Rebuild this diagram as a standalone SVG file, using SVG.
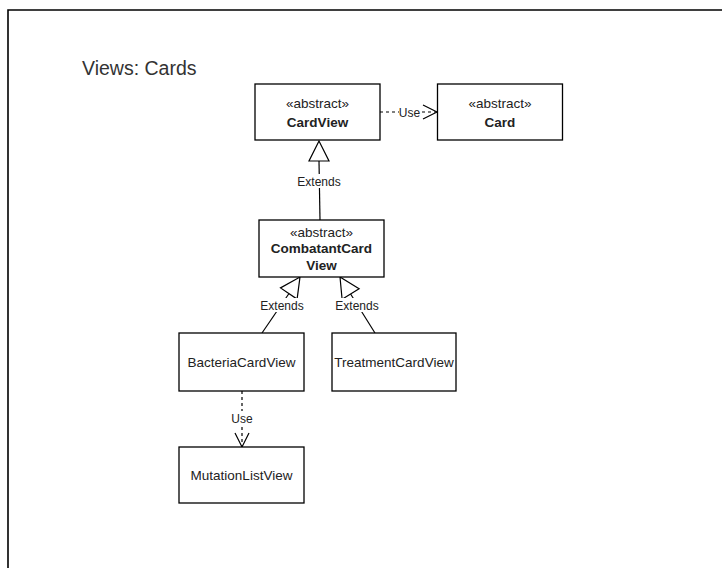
<svg xmlns="http://www.w3.org/2000/svg" width="722" height="568" viewBox="0 0 722 568">
  <style>
    .box { fill: #ffffff; stroke: #000000; stroke-width: 1.3; }
    .txt { font-family: "Liberation Sans", Arial, sans-serif; font-size: 13.5px; fill: #222222; text-anchor: middle; }
    .bold { font-weight: bold; }
    .lbl { font-family: "Liberation Sans", Arial, sans-serif; font-size: 12px; fill: #222222; text-anchor: middle; }
    .line { fill: none; stroke: #000000; stroke-width: 1.2; }
    .dash { fill: none; stroke: #000000; stroke-width: 1.2; stroke-dasharray: 3 3; }
    .tri { fill: #ffffff; stroke: #000000; stroke-width: 1.2; }
    .bg { fill: #ffffff; }
  </style>
  <rect x="0" y="0" width="722" height="568" fill="#ffffff"/>
  <!-- frame -->
  <path d="M 722 10 L 8 10 L 8 568" fill="none" stroke="#000000" stroke-width="1.6"/>
  <text x="82" y="75" font-family="'Liberation Sans', Arial, sans-serif" font-size="19.5" fill="#333333">Views: Cards</text>

  <g id="connectors">
    <!-- CardView uses Card -->
    <line class="dash" x1="380" y1="112" x2="437" y2="112"/>
    <polyline class="line" points="423,105 437,112 423,119"/>
    <rect class="bg" x="399" y="105" width="21" height="14"/>
    <text class="lbl" x="409.5" y="116.5">Use</text>

    <!-- CombatantCardView extends CardView -->
    <line class="line" x1="319" y1="161" x2="320" y2="220"/>
    <polygon class="tri" points="319,141 309,161 329,161"/>
    <rect class="bg" x="297" y="174" width="44" height="14"/>
    <text class="lbl" x="319" y="185.5">Extends</text>

    <!-- BacteriaCardView extends CombatantCardView -->
    <line class="line" x1="262" y1="333" x2="289" y2="293.5"/>
    <polygon class="tri" points="300,277 297.1,299.1 280.5,287.9"/>
    <rect class="bg" x="260" y="298" width="44" height="14"/>
    <text class="lbl" x="282" y="309.5">Extends</text>

    <!-- TreatmentCardView extends CombatantCardView -->
    <line class="line" x1="375" y1="333" x2="350.6" y2="294"/>
    <polygon class="tri" points="340,277 359.1,288.7 342.1,299.3"/>
    <rect class="bg" x="335" y="298" width="44" height="14"/>
    <text class="lbl" x="357" y="309.5">Extends</text>

    <!-- BacteriaCardView uses MutationListView -->
    <line class="dash" x1="242" y1="391" x2="242" y2="447" stroke-dasharray="2 2"/>
    <polyline class="line" points="235,433 242,447 249,433"/>
    <rect class="bg" x="231" y="411" width="22" height="14"/>
    <text class="lbl" x="242" y="422.5">Use</text>
  </g>

  <g id="cardview">
    <rect class="box" x="255" y="84" width="125" height="56"/>
    <text class="txt" x="317.5" y="108">«abstract»</text>
    <text class="txt bold" x="317.5" y="127">CardView</text>
  </g>

  <g id="card">
    <rect class="box" x="437.5" y="84" width="125" height="56"/>
    <text class="txt" x="500" y="108">«abstract»</text>
    <text class="txt bold" x="500" y="127">Card</text>
  </g>

  <g id="combatantcardview">
    <rect class="box" x="259" y="220" width="125" height="57"/>
    <text class="txt" x="321.5" y="237">«abstract»</text>
    <text class="txt bold" x="321.5" y="253">CombatantCard</text>
    <text class="txt bold" x="321.5" y="270">View</text>
  </g>

  <g id="bacteriacardview">
    <rect class="box" x="179" y="333" width="125" height="58"/>
    <text class="txt" x="241.5" y="366.5">BacteriaCardView</text>
  </g>

  <g id="treatmentcardview">
    <rect class="box" x="332" y="333" width="124" height="58"/>
    <text class="txt" x="394" y="366.5">TreatmentCardView</text>
  </g>

  <g id="mutationlistview">
    <rect class="box" x="179" y="447" width="125" height="56"/>
    <text class="txt" x="241.5" y="479.5">MutationListView</text>
  </g>
</svg>
